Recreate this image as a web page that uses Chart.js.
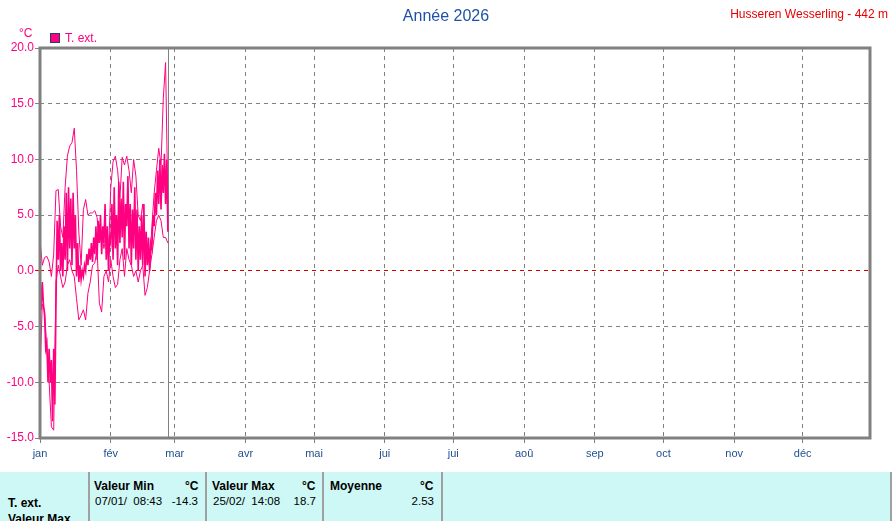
<!DOCTYPE html>
<html>
<head>
<meta charset="utf-8">
<script src="https://cdn.jsdelivr.net/npm/chart.js@4"></script>
<style>
  body { margin: 0; background: #fff; font-family: "Liberation Sans", Arial, sans-serif; }
  #wrap { position: relative; width: 892px; height: 521px; overflow: hidden; }
  #chartBox { position: absolute; left: 0; top: 0; width: 892px; height: 472px; }
  .txt { position: absolute; white-space: pre; line-height: 1; }
  #table { position: absolute; left: 0; top: 472px; width: 892px; height: 49px; background: #cdf8f5; }
  .sep { position: absolute; top: 0; width: 2px; height: 49px; background: #a0a0a0; }
  #table .txt { font-size: 11.5px; color: #000; }
  #table .b { font-weight: bold; font-size: 12px; }
</style>
</head>
<body>
<div id="wrap">
  <div id="chartBox"><canvas id="tempChart" width="892" height="472"></canvas></div>

  <div class="txt" style="left:0;width:892px;text-align:center;top:8px;font-size:16px;color:#1f52a6;">Année 2026</div>
  <div class="txt" style="right:4px;top:8px;font-size:12px;color:#e60000;">Husseren Wesserling - 442 m</div>
  <div class="txt" style="left:19px;top:27px;font-size:12px;color:#ff0080;">°C</div>
  <div style="position:absolute;left:50px;top:33px;width:8px;height:8px;background:#ff0080;border:1px solid #1f3f6f;"></div>
  <div class="txt" style="left:65px;top:32px;font-size:12px;color:#ff0080;">T. ext.</div>

  <div id="table">
    <div class="sep" style="left:88px"></div>
    <div class="sep" style="left:205px"></div>
    <div class="sep" style="left:322px"></div>
    <div class="sep" style="left:441px"></div>
    <div class="sep" style="left:890px"></div>

    <div class="txt b" style="left:94px;top:8px;">Valeur Min</div>
    <div class="txt b" style="left:185px;top:8px;">°C</div>
    <div class="txt" style="left:95px;top:24px;">07/01/  08:43</div>
    <div class="txt" style="right:694px;top:24px;">-14.3</div>

    <div class="txt b" style="left:212px;top:8px;">Valeur Max</div>
    <div class="txt b" style="left:302px;top:8px;">°C</div>
    <div class="txt" style="left:213px;top:24px;">25/02/  14:08</div>
    <div class="txt" style="right:576px;top:24px;">18.7</div>

    <div class="txt b" style="left:330px;top:8px;">Moyenne</div>
    <div class="txt b" style="left:420px;top:8px;">°C</div>
    <div class="txt" style="right:458px;top:24px;">2.53</div>

    <div class="txt b" style="left:8px;top:25px;">T. ext.</div>
    <div class="txt b" style="left:8px;top:41px;">Valeur Max</div>
  </div>
</div>

<script>
// Month axis (day of year where each month starts)
const monthDays = [0, 31, 59, 90, 120, 151, 181, 212, 243, 273, 304, 334];
const monthLabels = ["jan", "fév", "mar", "avr", "mai", "jui", "jui", "aoû", "sep", "oct", "nov", "déc"];
const yTicks = [-15, -10, -5, 0, 5, 10, 15, 20];
const nowDay = 56; // vertical marker (today)

// Outside temperature, two readings per day from 1 Jan
const tempHalfDay = [
  -0.5, -3.5, -1.0, -3.0, -4.0, -7.0, -6.5, -10.0, -7.0, -10.0,
  -8.0, -13.5, -7.0, -12.0, -3.0, 4.5, 1.0, 5.0, 0.0, 2.5,
  -0.5, 4.0, 1.0, 7.0, 0.0, 7.5, 2.0, 6.5, 0.5, 7.0,
  2.0, 5.0, -0.5, 2.5, -1.0, 0.5, -0.8, 0.0, -0.5, 0.5,
  0.0, 1.5, 0.5, 2.0, 1.0, 2.5, 0.8, 3.0, 1.5, 4.0,
  1.0, 4.5, 2.5, 5.0, 1.5, 4.0, 2.5, 6.0, 1.0, 4.0,
  0.0, 3.0, 2.5, 6.0, 1.0, 7.5, 2.0, 5.0, 0.5, 8.0,
  2.5, 6.5, 3.0, 8.0, 1.0, 6.0, 4.0, 8.5, 2.0, 6.0,
  0.5, 5.5, 2.0, 7.5, 1.0, 5.5, 0.0, 4.0, 1.0, 5.0,
  0.5, 6.0, -0.5, 3.5, 0.5, 3.0, 0.0, 2.5, 2.0, 5.0,
  4.0, 7.0, 5.0, 9.0, 6.0, 10.0, 5.5, 9.5, 7.0, 10.5,
  6.0, 10.0, 3.5
];

// Upper and lower thin curves, one value per day
const tempUpper = [
  2.8, 0.5, 1.2, 1.3, 0.8, -0.5, 1.5, 7.2, 7.3, 4.0,
  3.0, 7.5, 10.3, 11.2, 11.5, 12.8, 9.0, 3.5, 0.5, 5.5,
  6.4, 5.0, 5.2, 5.2, 5.4, 4.8, 2.5, 3.5, 2.0, 3.2,
  1.5, 7.5, 9.8, 10.3, 9.0, 6.5, 10.2, 9.5, 10.3, 9.0,
  7.0, 10.0, 8.5, 5.0, 4.5, 6.0, 3.0, 1.5, 0.5, 4.0,
  7.0, 9.0, 11.0, 9.5, 15.5, 18.7, 6.0
];
const tempLower = [
  -9.0, -3.0, -3.5, -7.0, -10.0, -14.0, -14.3, -1.0, 0.5, -0.5,
  -1.5, -1.0, 0.5, 1.0, 0.0, -0.5, -2.5, -4.4, -4.0, -3.5,
  -4.4, -2.0, -1.0, 0.5, 0.7, 2.0, -2.9, -3.7, -0.5, 0.0,
  -1.0, 1.0, -0.5, -1.5, -1.2, 1.0, 2.0, -0.5, 2.0, 1.0,
  0.5, -0.5, 0.0, -1.0, 0.0, 0.5, -2.2, -1.5, 0.0, 1.5,
  3.0, 4.5, 5.0, 4.5, 3.0, 3.0, 2.5
];

const pink = "#ff0080";
const grey = "#808080";

const ctx = document.getElementById("tempChart").getContext("2d");

// frame around the plot + "today" marker
const framePlugin = {
  id: "frame",
  beforeDatasetsDraw(chart) {
    const c = chart.ctx, a = chart.chartArea;
    const x = Math.round(chart.scales.x.getPixelForValue(nowDay)) + 0.5;
    c.save();
    c.strokeStyle = grey;
    c.lineWidth = 1;
    c.beginPath();
    c.moveTo(x, a.top);
    c.lineTo(x, a.bottom);
    c.stroke();
    c.restore();
  },
  afterDraw(chart) {
    const c = chart.ctx, a = chart.chartArea;
    c.save();
    c.strokeStyle = grey;
    c.lineWidth = 3;
    c.strokeRect(a.left, a.top, a.right - a.left, a.bottom - a.top);
    c.restore();
  }
};

new Chart(ctx, {
  type: "line",
  data: {
    datasets: [
      {
        label: "T. ext.",
        data: tempHalfDay.map((v, i) => ({ x: i / 2, y: v })),
        borderColor: pink,
        borderWidth: 1.6
      },
      {
        label: "max",
        data: tempUpper.map((v, i) => ({ x: i, y: v })),
        borderColor: pink,
        borderWidth: 1
      },
      {
        label: "min",
        data: tempLower.map((v, i) => ({ x: i, y: v })),
        borderColor: pink,
        borderWidth: 1
      }
    ]
  },
  options: {
    responsive: false,
    animation: false,
    layout: { padding: { top: 48, right: 22, left: 0, bottom: 0 } },
    elements: { point: { radius: 0 }, line: { tension: 0 } },
    plugins: { legend: { display: false }, tooltip: { enabled: false } },
    scales: {
      x: {
        type: "linear",
        min: 0,
        max: 363.5,
        afterBuildTicks: s => { s.ticks = monthDays.map(v => ({ value: v })); },
        afterFit: s => { s.height = 34; },
        ticks: {
          autoSkip: false,
          maxRotation: 0,
          padding: 4,
          color: "#1f4f8f",
          font: { family: "Liberation Sans", size: 11 },
          callback: (v, i) => monthLabels[i]
        },
        grid: { color: grey, tickLength: 5 },
        border: { display: false, dash: [4, 4] }
      },
      y: {
        min: -15,
        max: 20,
        afterBuildTicks: s => { s.ticks = yTicks.map(v => ({ value: v })); },
        afterFit: s => { s.width = 40; },
        ticks: {
          padding: 1,
          color: pink,
          font: { family: "Liberation Sans", size: 12 },
          callback: v => v.toFixed(1)
        },
        grid: {
          tickLength: 5,
          color: c => (c.tick && c.tick.value === 0 ? "#dd0000" : grey)
        },
        border: { display: false, dash: [4, 4] }
      }
    }
  },
  plugins: [framePlugin]
});
</script>
</body>
</html>
